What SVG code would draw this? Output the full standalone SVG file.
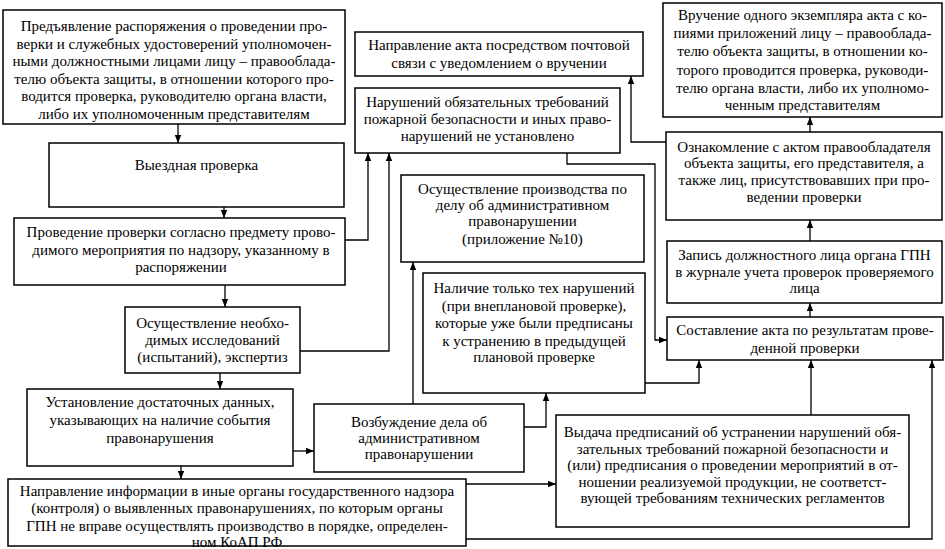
<svg xmlns="http://www.w3.org/2000/svg" width="945" height="549" viewBox="0 0 945 549">
<defs>
<marker id="ar" viewBox="0 0 8 8" refX="8" refY="4" markerWidth="8" markerHeight="8" markerUnits="userSpaceOnUse" orient="auto">
<path d="M0,0.8 L8,4 L0,7.2 Z" fill="#000"/>
</marker>
<style>
.b{fill:#fff;stroke:#000;stroke-width:1.5}
.t{font-family:"Liberation Serif","Times New Roman",serif;font-size:15px;fill:#000;text-anchor:middle}
.c{fill:none;stroke:#000;stroke-width:1.3;marker-end:url(#ar)}
</style>
</defs>
<rect width="945" height="549" fill="#fff"/>
<g id="connectors">
<path class="c" d="M178,124 V143"/>
<path class="c" d="M224,207 V218"/>
<path class="c" d="M225,285 V307"/>
<path class="c" d="M220,373 V389"/>
<path class="c" d="M181,466 V479"/>
<path class="c" d="M293,451 H314"/>
<path class="c" d="M345,240 H368 V153"/>
<path class="c" d="M300,351 H389 V153"/>
<path class="c" d="M413,404 V262"/>
<path class="c" d="M524,427 H546 V393"/>
<path class="c" d="M645,383 H699 V360"/>
<path class="c" d="M811,415 V360"/>
<path class="c" d="M466,484 H556"/>
<path class="c" d="M466,539 H932 V360"/>
<path class="c" d="M567,153 V164 H655 V340 H667"/>
<path class="c" d="M666,142 H631 V76"/>
<path class="c" d="M810,317 V303"/>
<path class="c" d="M810,241 V220"/>
<path class="c" d="M810,132 V117"/>
</g>
<g id="n1">
<rect class="b" x="3" y="10" width="342" height="114"/>
<text class="t" x="174" y="31">Предъявление распоряжения о проведении про-</text>
<text class="t" x="174" y="48.5">верки и служебных удостоверений уполномочен-</text>
<text class="t" x="174" y="66">ными должностными лицами лицу – правооблада-</text>
<text class="t" x="174" y="83.5">телю объекта защиты, в отношении которого про-</text>
<text class="t" x="174" y="101">водится проверка, руководителю органа власти,</text>
<text class="t" x="174" y="118.5">либо их уполномоченным представителям</text>
</g>
<g id="n2">
<rect class="b" x="49" y="143" width="295" height="64"/>
<text class="t" x="196.5" y="170">Выездная проверка</text>
</g>
<g id="n3">
<rect class="b" x="14" y="218" width="331" height="67"/>
<text class="t" x="181" y="237">Проведение проверки согласно предмету прово-</text>
<text class="t" x="181" y="254.5">димого мероприятия по надзору, указанному в</text>
<text class="t" x="181" y="272">распоряжении</text>
</g>
<g id="n4">
<rect class="b" x="125" y="307" width="175" height="66"/>
<text class="t" x="212.5" y="328">Осуществление необхо-</text>
<text class="t" x="212.5" y="345">димых исследований</text>
<text class="t" x="212.5" y="362">(испытаний), экспертиз</text>
</g>
<g id="n5">
<rect class="b" x="27" y="389" width="266" height="77"/>
<text class="t" x="160" y="407">Установление достаточных данных,</text>
<text class="t" x="160" y="425">указывающих на наличие события</text>
<text class="t" x="160" y="443">правонарушения</text>
</g>
<g id="n6">
<rect class="b" x="8" y="479" width="458" height="67"/>
<text class="t" x="237" y="496">Направление информации в иные органы государственного надзора</text>
<text class="t" x="237" y="513">(контроля) о выявленных правонарушениях, по которым органы</text>
<text class="t" x="237" y="531">ГПН не вправе осуществлять производство в порядке, определен-</text>
<text class="t" x="237" y="547">ном КоАП РФ</text>
</g>
<g id="n7">
<rect class="b" x="314" y="404" width="210" height="68"/>
<text class="t" x="419" y="427">Возбуждение дела об</text>
<text class="t" x="419" y="443">административном</text>
<text class="t" x="419" y="459">правонарушении</text>
</g>
<g id="n8">
<rect class="b" x="355" y="32" width="288" height="44"/>
<text class="t" x="499" y="50">Направление акта посредством почтовой</text>
<text class="t" x="499" y="68">связи с уведомлением о вручении</text>
</g>
<g id="n9">
<rect class="b" x="355" y="88" width="265" height="65"/>
<text class="t" x="487.5" y="107">Нарушений обязательных требований</text>
<text class="t" x="487.5" y="124">пожарной безопасности и иных право-</text>
<text class="t" x="487.5" y="141">нарушений не установлено</text>
</g>
<g id="n10">
<rect class="b" x="401" y="175" width="243" height="87"/>
<text class="t" x="522.5" y="194">Осуществление производства по</text>
<text class="t" x="522.5" y="210">делу об административном</text>
<text class="t" x="522.5" y="226">правонарушении</text>
<text class="t" x="522.5" y="244">(приложение №10)</text>
</g>
<g id="n11">
<rect class="b" x="423" y="273" width="222" height="120"/>
<text class="t" x="534" y="293">Наличие только тех нарушений</text>
<text class="t" x="534" y="311">(при внеплановой проверке),</text>
<text class="t" x="534" y="328">которые уже были предписаны</text>
<text class="t" x="534" y="346">к устранению в предыдущей</text>
<text class="t" x="534" y="362">плановой проверке</text>
</g>
<g id="n12">
<rect class="b" x="663" y="3" width="279" height="114"/>
<text class="t" x="802.5" y="20">Вручение одного экземпляра акта с ко-</text>
<text class="t" x="802.5" y="38">пиями приложений лицу – правооблада-</text>
<text class="t" x="802.5" y="56">телю объекта защиты, в отношении ко-</text>
<text class="t" x="802.5" y="75">торого проводится проверка, руководи-</text>
<text class="t" x="802.5" y="93">телю органа власти, либо их уполномо-</text>
<text class="t" x="802.5" y="110">ченным представителям</text>
</g>
<g id="n13">
<rect class="b" x="666" y="132" width="276" height="88"/>
<text class="t" x="804" y="152">Ознакомление с актом правообладателя</text>
<text class="t" x="804" y="168">объекта защиты, его представителя, а</text>
<text class="t" x="804" y="185">также лиц, присутствовавших при про-</text>
<text class="t" x="804" y="202">ведении проверки</text>
</g>
<g id="n14">
<rect class="b" x="667" y="241" width="275" height="62"/>
<text class="t" x="804.5" y="260">Запись должностного лица органа ГПН</text>
<text class="t" x="804.5" y="277">в журнале учета проверок проверяемого</text>
<text class="t" x="804.5" y="293">лица</text>
</g>
<g id="n15">
<rect class="b" x="667" y="317" width="276" height="43"/>
<text class="t" x="805" y="335">Составление акта по результатам прове-</text>
<text class="t" x="805" y="353">денной проверки</text>
</g>
<g id="n16">
<rect class="b" x="556" y="415" width="353" height="112"/>
<text class="t" x="732.5" y="437">Выдача предписаний об устранении нарушений обя-</text>
<text class="t" x="732.5" y="454">зательных требований пожарной безопасности и</text>
<text class="t" x="732.5" y="470">(или) предписания о проведении мероприятий в от-</text>
<text class="t" x="732.5" y="487">ношении реализуемой продукции, не соответст-</text>
<text class="t" x="732.5" y="503">вующей требованиям технических регламентов</text>
</g>
</svg>
